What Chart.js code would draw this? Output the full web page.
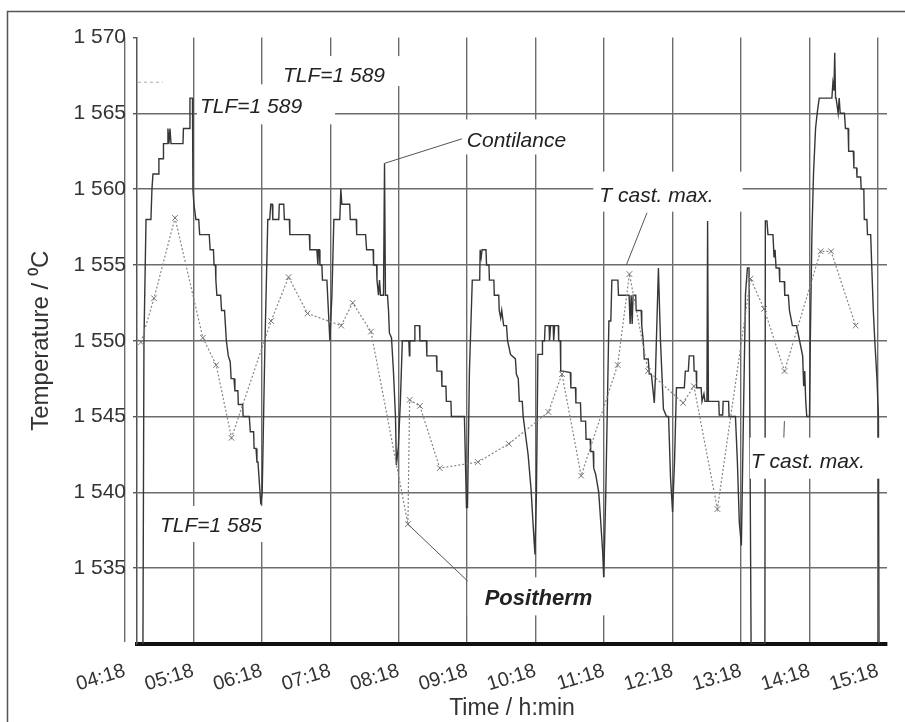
<!DOCTYPE html>
<html>
<head>
<meta charset="utf-8">
<script src="https://cdn.jsdelivr.net/npm/chart.js@4.4.0/dist/chart.umd.min.js"></script>
<style>
html,body{margin:0;padding:0;background:#fff;}
#wrap{width:905px;height:722px;}
</style>
</head>
<body>
<div id="wrap"><canvas id="c" width="905" height="722"></canvas></div>
<script>
// ---- DATA (time = minutes since midnight, temperature in °C) ----
const contTime = [
 273.9,274.8,276.6,280.9,281.8,282.7,287.5,287.9,291.5,291.9,295.0,295.8,296.7,297.6,298.5,309.0,309.4,314.7,315.1,317.3,317.7,318.6,320.3,322.8,323.6,332.0,332.8,335.7,336.2,337.4,337.8,338.7,342.0,342.8,345.4,346.2,347.0,348.7,350.4,351.2,353.7,354.5,357.1,357.5,361.3,361.7,367.1,368.0,370.9,371.3,373.0,373.8,374.7,377.2,378.4,380.6,
 383.3,385.0,385.9,387.2,387.7,392.9,393.4,397.3,397.8,402.2,402.6,419.7,420.2,426.3,427.2,427.6,428.5,429.0,430.7,431.2,435.1,437.7,
 439.5,441.2,446.4,447.3,448.2,455.1,455.6,460.8,461.2,469.0,469.9,475.6,476.0,478.6,479.0,480.3,481.2,482.1,484.7,485.6,486.4,488.2,489.1,489.9,491.7,493.4,495.2,496.0,497.7,499.5,501.2,
 506.9,507.4,507.8,511.8,512.2,516.2,516.6,522.3,522.7,531.1,531.5,535.5,535.9,539.4,539.8,543.8,544.2,555.6,557.4,558.3,560.0,562.5,
 569.0,569.4,570.3,571.1,574.5,575.0,577.1,577.5,581.4,581.8,585.7,586.1,587.4,588.3,590.0,592.5,593.4,596.0,600.3,601.1,602.8,603.7,606.3,607.1,611.4,614.0,615.7,617.4,
 618.7,620.0,623.6,624.0,625.8,626.3,629.8,630.2,631.1,633.4,633.8,634.7,637.8,638.2,639.6,640.0,642.2,648.4,648.9,652.9,653.3,657.3,657.8,661.8,662.2,665.8,666.2,668.4,668.9,670.6,673.3,675.1,676.8,677.7,
 679.5,682.2,683.9,684.8,690.1,690.6,699.9,700.8,701.7,702.6,703.4,705.7,706.1,710.5,711.0,712.3,713.2,716.7,717.6,719.4,721.2,722.0,722.9,725.6,727.4,730.0,732.7,734.5,736.2,738.0,
 739.7,741.4,748.3,749.2,751.8,752.6,756.5,756.9,758.7,759.1,763.0,763.8,765.5,766.4,768.1,768.7,769.4,778.5,778.9,781.9,782.3,787.1,787.5,793.1,794.8,796.5,798.3,
 800.1,801.9,803.6,805.0,806.8,818.9,819.3,820.7,821.6,826.0,826.9,827.8,828.7,831.4,831.9,835.9,836.3,839.5,840.4,843.0,846.6,849.3,852.0,852.9,853.8,854.7,855.6,857.4,
 858.0,858.7,860.1,861.5,863.3,864.7,866.5,877.6,878.5,879.4,880.1,880.8,881.3,883.1,884.0,884.9,888.6,889.5,891.8,892.3,896.4,896.9,899.2,899.6,902.8,903.3,905.6,906.0,908.3,908.8,911.6,912.5,913.9,915.2,917.1,918.4,918.9
];
const contTemp = [
 1530,1550,1558,1558,1560,1561,1561,1562,1562,1563,1563,1564,1563,1564,1563,1563,1564,1564,1566,1566,1560,1559,1558,1558,1557,1557,1556,1556,1555,1555,1554,1553,1553,1552,1552,1551,1550,1549,1548.6,1547.5,1547.5,1546.7,1546.7,1545.8,1545.8,1545,1545,1544,1544,1542.9,1542.9,1542,1542,1539.2,1540,1549,
 1558,1558,1559,1559,1558,1558,1559,1559,1558,1558,1557,1557,1556,1556,1555,1556,1556,1555,1555,1554,1554,1550,
 1553,1558,1558,1560,1559,1559,1558,1558,1557,1557,1556,1556,1555,1555,1554,1553,1554,1553,1553,1561.7,1553,1553,1552,1550.5,1550.2,1548,1545,1541.8,1543,1546,1550,
 1550,1549,1550,1550,1551,1551,1550,1550,1549,1549,1548,1548,1547,1547,1546,1546,1545,1545,1539,1539,1548,1554,
 1554,1556,1555.5,1556,1556,1555,1555,1554,1554,1553,1553,1552,1551.5,1552,1551,1551,1550,1549.1,1548.8,1547.8,1547.5,1546,1546,1545,1542.5,1540.2,1538,1535.9,
 1540,1549.1,1549.1,1550,1550,1551,1551,1550,1551,1551,1550,1551,1551,1550,1550,1548,1548,1547.9,1546.9,1546.9,1545.9,1545.9,1544.7,1544.7,1543.5,1543.5,1542.7,1542.7,1541.6,1541.2,1540,1538,1536,1534.3,
 1540,1551.3,1551.3,1554,1554,1553,1553,1551.1,1553,1551.1,1553,1553,1552,1552,1551,1550,1548.8,1548.8,1547.8,1547.8,1546.5,1545.9,1547.5,1554.8,1550,1545.5,1545,1545,1541,1538.7,
 1542,1546.9,1546.9,1548,1548,1549,1549,1548,1548,1546.9,1546.9,1546,1546.5,1546,1546,1557.9,1546,1546,1545.1,1545.1,1546,1546,1545,1545,1542,1538,1536.5,
 1545,1553.1,1554.8,1554.8,1530,1530,1557.9,1557.9,1557,1557,1555.5,1556,1554.8,1554.8,1553.9,1553.9,1553,1553,1552,1551,1551,1550,1549,1547,1548,1546,1545,1545,
 1545,1550,1557,1561,1564,1565,1566,1566,1567,1566.5,1569,1566,1566,1565,1566,1565,1565,1564,1564,1562.5,1562.5,1561.4,1561.4,1560.8,1560.8,1560,1560,1558,1558,1557,1557,1555,1552,1550,1547.5,1545,1530
];
const posTime = [272.2,283.6,302.0,326.4,338.1,351.5,386.2,401.5,418.1,447.6,457.7,473.7,506.1,507.6,516.6,534.0,567.4,594.5,629.2,641.1,657.9,689.9,700.2,716.5,747.2,756.7,777.3,806.3,818.2,836.1,867.7,876.9,898.4];
const posTemp = [1549.9,1552.8,1558.1,1550.2,1548.4,1543.6,1551.3,1554.2,1551.8,1551.0,1552.5,1550.6,1537.9,1546.1,1545.7,1541.6,1542.0,1543.2,1545.3,1547.8,1541.1,1548.4,1554.4,1548.0,1545.9,1547.0,1538.9,1554.1,1552.1,1548.0,1555.9,1555.9,1551.0];
const xTickTimes = [258,318,378,438,498,558,618,678,738,798,858,918];
const yTickValues = [1535,1540,1545,1550,1555,1560,1565,1570];

// ---- annotations (anchored in data units) ----
const noteTexts = ['TLF=1 589','TLF=1 589','Contilance','T cast. max.','T cast. max.','TLF=1 585','Positherm'];
const noteAt = [[441.3,1567.52],[368.6,1565.46],[601.2,1563.21],[723.9,1559.57],[856.7,1542.09],[333.5,1537.85],[620.5,1533.01]];
const leaderLines = [[485.6,1561.7,554.4,1563.34],[715.6,1558.44,697.5,1555.0],[836.0,1544.7,835.5,1543.6],[506.1,1537.9,567.5,1533.5]];

const FONT = "'Liberation Sans', Arial, Helvetica, sans-serif";
const notePad = [[11,20,10,2],[3,33,13,9],[5,5,12,5],[6,29,15,7],[1,20,14,9],[5,6,10,8],[17,17,12,8]];

function hhmm(v){const h=Math.floor(v/60);const m=Math.round(v-h*60);return String(h).padStart(2,'0')+':'+String(m).padStart(2,'0');}
function spaced(v){return String(v).replace(/\B(?=(\d{3})+(?!\d))/g,' ');}

const framePlugin = {
  id:'frame',
  beforeDraw(chart){const c=chart.ctx;c.save();c.fillStyle='#fff';c.fillRect(0,0,chart.width,chart.height);c.restore();},
  afterDraw(chart){const c=chart.ctx;c.save();c.strokeStyle='#555';c.lineWidth=1.5;c.strokeRect(7.5,11.5,chart.width+10,chart.height+10);c.restore();}
};

const notesPlugin = {
  id:'notes',
  afterDatasetsDraw(chart){
    const c=chart.ctx, xs=chart.scales.x, ys=chart.scales.y;
    c.save();
    c.strokeStyle='#aaa';c.lineWidth=1;c.setLineDash([3,3]);
    c.beginPath();c.moveTo(xs.getPixelForValue(269.6),ys.getPixelForValue(1567.05));c.lineTo(xs.getPixelForValue(291.4),ys.getPixelForValue(1567.05));c.stroke();
    c.setLineDash([]);
    c.strokeStyle='#555';c.lineWidth=1;
    leaderLines.forEach(l=>{
      c.beginPath();
      c.moveTo(xs.getPixelForValue(l[0]),ys.getPixelForValue(l[1]));
      c.lineTo(xs.getPixelForValue(l[2]),ys.getPixelForValue(l[3]));
      c.stroke();
    });
    noteTexts.forEach((t,i)=>{
      const bold = t==='Positherm';
      c.font = (bold?'italic bold 22px ':'italic 21px ')+FONT;
      const w=c.measureText(t).width;
      const cx=xs.getPixelForValue(noteAt[i][0]), cy=ys.getPixelForValue(noteAt[i][1]);
      const p=notePad[i];
      c.fillStyle='#fff';
      c.fillRect(cx-w/2-p[0], cy-9-p[2], w+p[0]+p[1], 18+p[2]+p[3]);
      c.fillStyle='#222';c.textAlign='center';c.textBaseline='middle';
      c.fillText(t,cx,cy+1);
    });
    c.restore();
  }
};

new Chart(document.getElementById('c'),{
  type:'scatter',
  data:{datasets:[
    {label:'Contilance',data:contTime.map((t,i)=>({x:t,y:contTemp[i]})),showLine:true,borderColor:'#363636',borderWidth:1.4,pointRadius:0,tension:0,order:2},
    {label:'Positherm',data:posTime.map((t,i)=>({x:t,y:posTemp[i]})),showLine:true,borderColor:'#858585',borderWidth:1.2,borderDash:[2,2],
     pointStyle:'crossRot',pointRadius:4,pointBorderColor:'#777',pointBackgroundColor:'#777',pointBorderWidth:1,tension:0,order:1}
  ]},
  options:{
    responsive:false,animation:false,devicePixelRatio:1,
    layout:{padding:{left:0,right:18,top:37.5,bottom:0}},
    plugins:{legend:{display:false},tooltip:{enabled:false}},
    scales:{
      x:{type:'linear',min:268.7,max:925.9,
        afterBuildTicks:s=>{s.ticks=xTickTimes.map(v=>({value:v}));},
        afterFit:s=>{s.paddingLeft=0;s.paddingRight=0;s.height=78;},
        ticks:{autoSkip:false,maxRotation:17,minRotation:17,padding:15,color:'#333',font:{family:FONT,size:20},callback:v=>hhmm(v)},
        grid:{color:'#6c6c6c',lineWidth:1.4,drawTicks:false},
        border:{color:'#111',width:4},
        title:{display:true,text:'Time / h:min',color:'#333',font:{family:FONT,size:23},padding:{top:0,bottom:0}}
      },
      y:{min:1530,max:1570,
        afterBuildTicks:s=>{s.ticks=yTickValues.map(v=>({value:v}));},
        afterFit:s=>{s.width=137;},
        ticks:{padding:7,color:'#333',font:{family:FONT,size:21},callback:v=>spaced(v)},
        grid:{color:c=>(c.tick&&c.tick.value===1570)?'rgba(0,0,0,0)':'#6c6c6c',lineWidth:1.4,tickLength:4,tickColor:'#555'},
        border:{color:'#555',width:1.5},
        title:{display:true,text:'Temperature / \u2070C',color:'#333',font:{family:FONT,size:24},padding:{top:27,bottom:0}}
      }
    }
  },
  plugins:[framePlugin,notesPlugin]
});
</script>
</body>
</html>
